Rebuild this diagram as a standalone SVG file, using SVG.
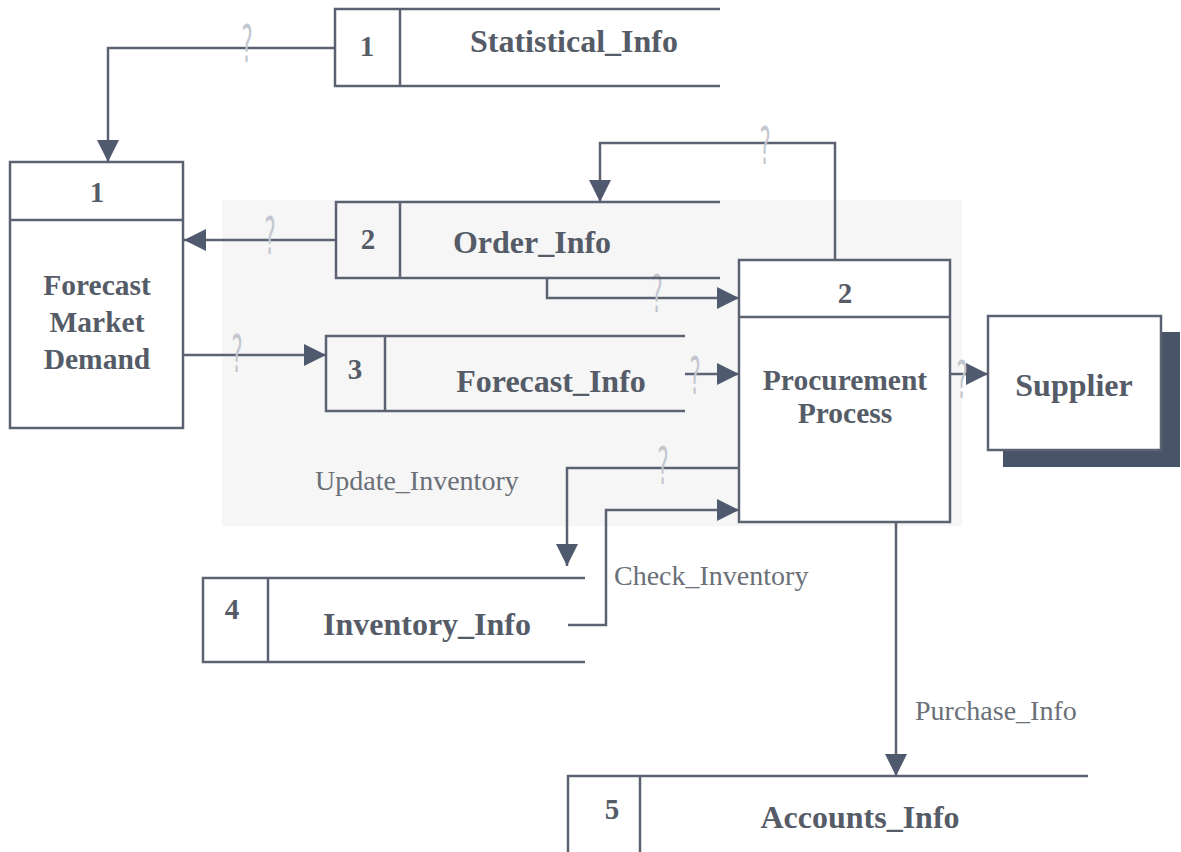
<svg xmlns="http://www.w3.org/2000/svg" width="1181" height="852" viewBox="0 0 1181 852">
  <style>
    .ln { fill: none; stroke: #5b6373; stroke-width: 2.5; }
    .box { fill: #ffffff; stroke: #5b6373; stroke-width: 2.5; }
    .num { font-family: "Liberation Serif", serif; font-weight: bold; font-size: 29px; fill: #555c68; text-anchor: middle; }
    .lbl { font-family: "Liberation Serif", serif; font-weight: bold; font-size: 32px; fill: #555c68; text-anchor: middle; }
    .plbl { font-family: "Liberation Serif", serif; font-weight: bold; font-size: 29.5px; fill: #555c68; text-anchor: middle; }
    .flow { font-family: "Liberation Serif", serif; font-size: 28px; fill: #6a6f78; }
    .mark { font-family: "DejaVu Sans", sans-serif; font-size: 30px; fill: #c3c7cf; text-anchor: middle; }
  </style>
  <defs>
    <marker id="arr" markerUnits="userSpaceOnUse" markerWidth="22" markerHeight="22" refX="22" refY="11" orient="auto">
      <path d="M0,0 L22,11 L0,22 z" fill="#4f5a6e"/>
    </marker>
  </defs>

  <rect width="1181" height="852" fill="#ffffff"/>
  <!-- faint shaded panel behind the middle of the chart -->
  <rect x="222" y="200" width="740" height="326" fill="#f6f6f6"/>

  <!-- data flows -->
  <g id="connectors">
    <path class="ln" d="M335,48 H108 V162" marker-end="url(#arr)"/>
    <path class="ln" d="M336,240 H184" marker-end="url(#arr)"/>
    <path class="ln" d="M183,355 H326" marker-end="url(#arr)"/>
    <path class="ln" d="M835,260 V143 H600 V202" marker-end="url(#arr)"/>
    <path class="ln" d="M547,278 V298 H739" marker-end="url(#arr)"/>
    <path class="ln" d="M685,374 H739" marker-end="url(#arr)"/>
    <path class="ln" d="M950,374 H988" marker-end="url(#arr)"/>
    <path class="ln" d="M739,468 H567 V566" marker-end="url(#arr)"/>
    <path class="ln" d="M568,625 H606 V510 H739" marker-end="url(#arr)"/>
    <path class="ln" d="M896,522 V776" marker-end="url(#arr)"/>
    <text class="flow" x="315" y="490">Update_Inventory</text>
    <text class="flow" x="614" y="585">Check_Inventory</text>
    <text class="flow" x="915" y="720">Purchase_Info</text>
  </g>

  <!-- pencilled query marks -->
  <g id="marks">
    <text class="mark" transform="translate(247,62) scale(0.7,1.7)">?</text>
    <text class="mark" transform="translate(270,254) scale(0.7,1.7)">?</text>
    <text class="mark" transform="translate(237,372) scale(0.7,1.7)">?</text>
    <text class="mark" transform="translate(657,312) scale(0.7,1.7)">?</text>
    <text class="mark" transform="translate(695,394) scale(0.7,1.7)">?</text>
    <text class="mark" transform="translate(765,164) scale(0.7,1.7)">?</text>
    <text class="mark" transform="translate(663,484) scale(0.7,1.7)">?</text>
    <text class="mark" transform="translate(962,398) scale(0.7,1.7)">?</text>
  </g>

  <!-- data store 1 -->
  <g id="store1">
    <path class="ln" d="M720,9 H335 V86 H720 M400,9 V86"/>
    <text class="num" x="367" y="56">1</text>
    <text class="lbl" x="574" y="52">Statistical_Info</text>
  </g>

  <!-- data store 2 -->
  <g id="store2">
    <path class="ln" d="M720,202 H336 V278 H720 M400,202 V278"/>
    <text class="num" x="368" y="249">2</text>
    <text class="lbl" x="532" y="253">Order_Info</text>
  </g>

  <!-- data store 3 -->
  <g id="store3">
    <path class="ln" d="M685,336 H326 V411 H685 M385,336 V411"/>
    <text class="num" x="355" y="379">3</text>
    <text class="lbl" x="551" y="392">Forecast_Info</text>
  </g>

  <!-- data store 4 -->
  <g id="store4">
    <path class="ln" d="M585,578 H203 V662 H585 M268,578 V662"/>
    <text class="num" x="232" y="619">4</text>
    <text class="lbl" x="427" y="635">Inventory_Info</text>
  </g>

  <!-- data store 5 -->
  <g id="store5">
    <path class="ln" d="M1088,776 H568 V860 M640,776 V860"/>
    <text class="num" x="612" y="819">5</text>
    <text class="lbl" x="860" y="828">Accounts_Info</text>
  </g>

  <!-- process 1 -->
  <g id="process1">
    <rect class="box" x="10" y="162" width="173" height="266"/>
    <line class="ln" x1="10" y1="220" x2="183" y2="220"/>
    <text class="num" x="97" y="202">1</text>
    <text class="plbl" x="97" y="295">Forecast</text>
    <text class="plbl" x="97" y="332">Market</text>
    <text class="plbl" x="97" y="369">Demand</text>
  </g>

  <!-- process 2 -->
  <g id="process2">
    <rect class="box" x="739" y="260" width="211" height="262"/>
    <line class="ln" x1="739" y1="317" x2="950" y2="317"/>
    <text class="num" x="845" y="303">2</text>
    <text class="plbl" x="845" y="390">Procurement</text>
    <text class="plbl" x="845" y="423">Process</text>
  </g>

  <!-- external entity -->
  <g id="supplier">
    <rect x="1003" y="332" width="177" height="135" fill="#4a5468"/>
    <rect class="box" x="988" y="316" width="173" height="134"/>
    <text class="plbl" x="1074" y="396" style="font-size:32px">Supplier</text>
  </g>
</svg>
